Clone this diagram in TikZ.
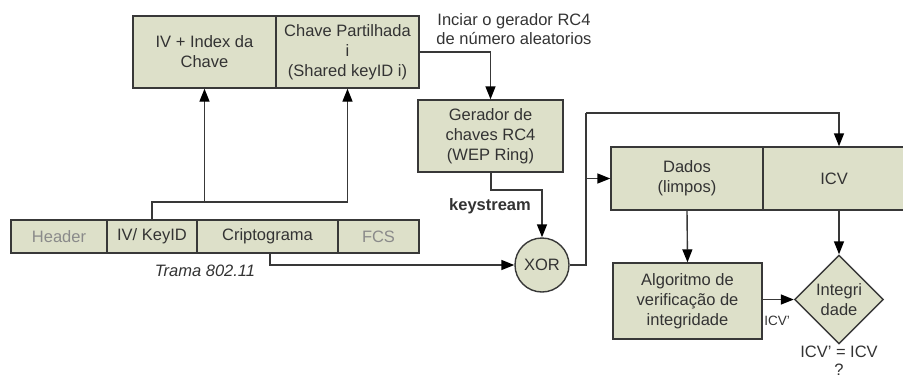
\documentclass[tikz,border=0pt]{standalone}
\usepackage{fontspec}
\setmainfont{Liberation Sans}
\usetikzlibrary{arrows.meta,shapes.geometric,calc}
\definecolor{boxfill}{HTML}{DDE0C9}
\definecolor{edge}{HTML}{383838}
\definecolor{txt}{HTML}{333333}
\definecolor{dim}{HTML}{8A8A8A}
\tikzset{
  cell/.style={draw=edge,line width=1.4pt,fill=boxfill,inner sep=0pt,
    text=txt,align=center,font=\fontsize{16.5}{20}\selectfont},
  lbl/.style={text=txt,align=center,font=\fontsize{16.5}{20}\selectfont,inner sep=0pt},
  wire/.style={draw=edge,line width=1.4pt},
  arr/.style={wire,-{Triangle[length=13pt,width=10pt,color=black]}},
}
\begin{document}
\begin{tikzpicture}[x=1pt,y=-1pt]
\useasboundingbox (0,0) rectangle (903,378);
\clip (0,0) rectangle (903,378);

% key index box
\node[cell,minimum width=143pt,minimum height=72pt] (ividx) at (204.5,52) {IV + Index da\\Chave};
\node[cell,minimum width=143pt,minimum height=72pt] (shared) at (347.5,52) {Chave Partilhada\\i\\(Shared keyID i)};

% 802.11 frame
\node[cell,minimum width=96pt,minimum height=33pt,text=dim] (hdr) at (59,236.5) {Header};
\node[cell,minimum width=90pt,minimum height=33pt] (ivk) at (152,236.5) {IV/ KeyID};
\node[cell,minimum width=141pt,minimum height=33pt] (crip) at (267.5,236.5) {Criptograma};
\node[cell,minimum width=81pt,minimum height=33pt,text=dim] (fcs) at (378.5,236.5) {FCS};
\node[lbl,font=\fontsize{16.5}{20}\selectfont\itshape] (trama) at (205,271) {Trama 802.11};

% RC4 generator
\node[cell,minimum width=145pt,minimum height=72pt] (rc4) at (490.5,136) {Gerador de\\chaves RC4\\(WEP Ring)};
\node[lbl,font=\fontsize{16.5}{18.5}\selectfont] (init) at (514,29) {Inciar o gerador RC4\\de número aleatorios};
\node[lbl,font=\fontsize{16.5}{20}\selectfont\bfseries] (ks) at (490,206) {keystream};

% XOR
\node[cell,circle,minimum size=54pt] (xor) at (542,265) {XOR};

% decrypted data
\node[cell,minimum width=152pt,minimum height=63pt] (dados) at (687,178.5) {Dados\\(limpos)};
\node[cell,minimum width=142pt,minimum height=63pt] (icv) at (834,178.5) {ICV};

% integrity check
\node[cell,minimum width=149pt,minimum height=76pt] (alg) at (687.5,301) {Algoritmo de\\verificação de\\integridade};
\node[cell,diamond,minimum width=89pt,minimum height=89pt] (integ) at (839,299.5) {Integri\\dade};
\node[lbl,font=\fontsize{13.5}{15}\selectfont] (icvp) at (777,321) {ICV'};
\node[lbl] (eq) at (839,352) {ICV' = ICV};
\node[lbl] (q) at (839,369.5) {?};

% connectors
\coordinate (split) at (152,202);
\draw[wire] (ivk.north) -- (split) -- (split -| shared.south);
\draw[arr] (split -| shared.south) -- (shared.south);
\draw[arr] (split -| ividx.south) -- (ividx.south);
\draw[arr] (shared.east) -- (shared.east -| rc4.north) -- (rc4.north);
\coordinate (ksbend) at (491,190);
\draw[arr] (rc4.south -| ksbend) -- (ksbend) -- (ksbend -| xor.north) -- (xor.north);
\coordinate (cripdrop) at (270,265);
\draw[arr] (crip.south -| cripdrop) -- (cripdrop) -- (xor.west);
\coordinate (riser) at (586,265);
\coordinate (top) at (586,113);
\draw[wire] (xor.east) -- (riser) -- (top);
\draw[arr] (top) -- (top -| integ.north) -- (icv.north -| integ.north);
\draw[arr] (riser |- dados.west) -- (dados.west);
\draw[arr] (dados.south) -- (alg.north);
\draw[arr] (icv.south -| integ.north) -- (integ.north);
\draw[arr] (alg.east |- integ.west) -- (integ.west);
\end{tikzpicture}
\end{document}
